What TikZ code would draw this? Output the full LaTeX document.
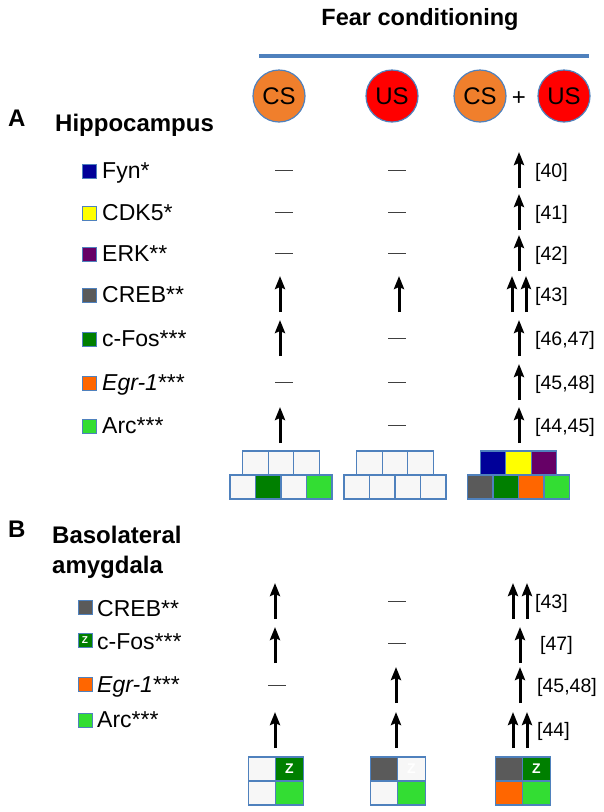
\documentclass[tikz,border=0pt]{standalone}
\usepackage{fontspec}
\setmainfont{Liberation Sans}
\usetikzlibrary{arrows.meta}
\definecolor{linkblue}{HTML}{4F81BD}
\definecolor{csorange}{HTML}{F07F2C}
\definecolor{usred}{HTML}{FF0000}
\definecolor{fyncol}{HTML}{000099}
\definecolor{cdkcol}{HTML}{FFFF00}
\definecolor{erkcol}{HTML}{660066}
\definecolor{crebcol}{HTML}{5A5A5A}
\definecolor{foscol}{HTML}{007F00}
\definecolor{egrcol}{HTML}{FF6600}
\definecolor{arccol}{HTML}{33DD33}
\definecolor{blank}{HTML}{F7F7F7}
% up arrow, double up arrow and no change, centred on (x,y)
\newcommand{\incr}[2]{\draw[uparr] (#1,#2+18) -- (#1,#2-18);}
\newcommand{\incrtwo}[2]{\draw[uparr] (#1-7,#2+18) -- (#1-7,#2-18); \draw[uparr] (#1+7,#2+18) -- (#1+7,#2-18);}
\newcommand{\nochg}[2]{\draw[flat] (#1-9,#2) -- (#1+9,#2);}
\begin{document}
\begin{tikzpicture}[x=1pt, y=-1pt,
    every node/.style={inner sep=0pt},
    heading/.style={font=\fontsize{24}{28}\selectfont\bfseries, anchor=base west},
    stim/.style={circle, draw=linkblue, line width=1.2pt, minimum size=52pt, font=\fontsize{24}{24}\selectfont},
    gene/.style={anchor=base west, font=\fontsize{23}{26}\selectfont},
    ref/.style={anchor=base west, font=\fontsize{19.5}{22}\selectfont},
    legsq/.style={draw=linkblue, line width=1pt, minimum size=14pt},
    cell/.style={draw=linkblue, line width=1.2pt, fill=blank, minimum width=25.5pt, minimum height=24pt},
    bcell/.style={cell, minimum width=27.5pt},
    zmark/.style={text=white, font=\fontsize{14}{14}\selectfont\bfseries},
    uparr/.style={-{Stealth[width=10pt,length=13pt,inset=2pt]}, line width=3pt},
    flat/.style={line width=0.9pt, black!75},
    bar/.style={line width=3.5pt, linkblue}
]
\useasboundingbox (0,0) rectangle (604,812);

% --- Header ---
\node[font=\fontsize{23.5}{28}\selectfont\bfseries, anchor=base] (title) at (420,25) {Fear conditioning};
\coordinate (barl) at (259,56);
\coordinate (barr) at (589,56);
\draw[bar] (barl) -- (barr);
\node[stim, fill=csorange] (cs1) at (279,96) {CS};
\node[stim, fill=usred] (us1) at (392,96) {US};
\node[stim, fill=csorange] (cs2) at (480,96) {CS};
\node[font=\fontsize{24}{24}\selectfont] (plus) at (519,99) {+};
\node[stim, fill=usred] (us2) at (564,96) {US};

% --- A: Hippocampus ---
\node[heading] (hA) at (8,126) {A};
\node[heading] (hipp) at (55,131) {Hippocampus};

\node[legsq, fill=fyncol] (sqfyn) at (89.5,171) {};
\node[gene] (fyn) at (102,178) {Fyn*};
\node[legsq, fill=cdkcol] (sqcdk) at (89.5,213) {};
\node[gene] (cdk) at (102,220) {CDK5*};
\node[legsq, fill=erkcol] (sqerk) at (89.5,254) {};
\node[gene] (erk) at (102,261) {ERK**};
\node[legsq, fill=crebcol] (sqcreb) at (89.5,295) {};
\node[gene] (creb) at (102,302) {CREB**};
\node[legsq, fill=foscol] (sqfos) at (89.5,339) {};
\node[gene] (fos) at (102,346) {c-Fos***};
\node[legsq, fill=egrcol] (sqegr) at (89.5,383) {};
\node[gene] (egr) at (102,390) {\textit{Egr-1}***};
\node[legsq, fill=arccol] (sqarc) at (89.5,426) {};
\node[gene] (arc) at (102,433) {Arc***};

\nochg{284}{170} \nochg{397}{170} \incr{519}{170}
\nochg{284}{212} \nochg{397}{212} \incr{519}{212}
\nochg{284}{253} \nochg{397}{253} \incr{519}{253}
\incr{280}{294} \incr{399}{294} \incrtwo{519}{294}
\incr{280}{338} \nochg{397}{338} \incr{519}{338}
\nochg{284}{382} \nochg{397}{382} \incr{519}{382}
\incr{280}{425} \nochg{397}{425} \incr{519}{425}

\node[ref] (r40) at (535,177) {[40]};
\node[ref] (r41) at (535,219) {[41]};
\node[ref] (r42) at (535,260) {[42]};
\node[ref] (r43a) at (535,301) {[43]};
\node[ref] (r4647) at (535,345) {[46,47]};
\node[ref] (r4548a) at (535,389) {[45,48]};
\node[ref] (r4445) at (535,432) {[44,45]};

% --- A: summary grids ---
\foreach \c [count=\i] in {blank,blank,blank}
  \node[cell, fill=\c] (hcs-t\i) at (281+25.5*\i-51,463) {};
\foreach \c [count=\i] in {blank,foscol,blank,arccol}
  \node[cell, fill=\c] (hcs-b\i) at (281+25.5*\i-63.75,487) {};
\foreach \c [count=\i] in {blank,blank,blank}
  \node[cell, fill=\c] (hus-t\i) at (395+25.5*\i-51,463) {};
\foreach \c [count=\i] in {blank,blank,blank,blank}
  \node[cell, fill=\c] (hus-b\i) at (395+25.5*\i-63.75,487) {};
\foreach \c [count=\i] in {fyncol,cdkcol,erkcol}
  \node[cell, fill=\c] (hboth-t\i) at (518.5+25.5*\i-51,463) {};
\foreach \c [count=\i] in {crebcol,foscol,egrcol,arccol}
  \node[cell, fill=\c] (hboth-b\i) at (518.5+25.5*\i-63.75,487) {};

% --- B: Basolateral amygdala ---
\node[heading] (hB) at (8,537) {B};
\node[heading] (bla) at (52,543) {Basolateral};
\node[heading] (bla2) at (52,573) {amygdala};

\node[legsq, fill=crebcol] (bsqcreb) at (85,607) {};
\node[gene] (bcreb) at (97,616) {CREB**};
\node[legsq, fill=foscol, zmark, font=\fontsize{10}{10}\selectfont\bfseries] (bsqfos) at (85,640) {Z};
\node[gene] (bfos) at (97,649) {c-Fos***};
\node[legsq, fill=egrcol] (bsqegr) at (85,684) {};
\node[gene] (begr) at (97,692) {\textit{Egr-1}***};
\node[legsq, fill=arccol] (bsqarc) at (85,720) {};
\node[gene] (barc) at (97,727) {Arc***};

\incr{275}{601} \nochg{397}{601} \incrtwo{520}{601}
\incr{275}{645} \nochg{397}{643} \incr{520}{645}
\nochg{277}{685} \incr{396}{685} \incr{520}{685}
\incr{275}{730} \incr{396}{730} \incrtwo{520}{730}

\node[ref] (r43b) at (535,608) {[43]};
\node[ref] (r47) at (540,650) {[47]};
\node[ref] (r4548b) at (537,692) {[45,48]};
\node[ref] (r44) at (537,736) {[44]};

% --- B: summary grids ---
\node[bcell] (bcs-11) at (262,769) {};
\node[bcell, fill=foscol, zmark] (bcs-12) at (289.5,769) {Z};
\node[bcell] (bcs-21) at (262,793) {};
\node[bcell, fill=arccol] (bcs-22) at (289.5,793) {};

\node[bcell, fill=crebcol] (bus-11) at (384,769) {};
\node[bcell, zmark] (bus-12) at (411.5,769) {Z};
\node[bcell] (bus-21) at (384,793) {};
\node[bcell, fill=arccol] (bus-22) at (411.5,793) {};

\node[bcell, fill=crebcol] (bboth-11) at (509,769) {};
\node[bcell, fill=foscol, zmark] (bboth-12) at (536.5,769) {Z};
\node[bcell, fill=egrcol] (bboth-21) at (509,793) {};
\node[bcell, fill=arccol] (bboth-22) at (536.5,793) {};
\end{tikzpicture}
\end{document}
